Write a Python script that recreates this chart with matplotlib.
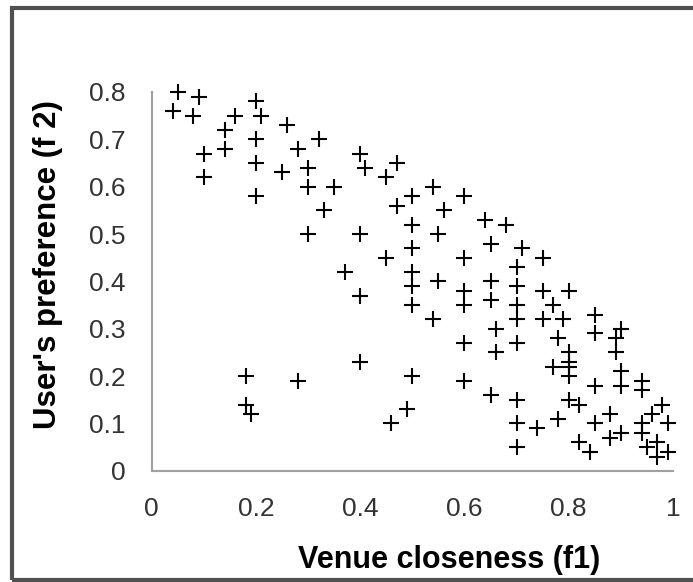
import matplotlib
matplotlib.use('Agg')
import matplotlib.pyplot as plt
from matplotlib.patches import Rectangle

# Venue closeness (f1) and user's preference (f2).
f1 = [0.05, 0.09, 0.04, 0.08, 0.20, 0.16, 0.21, 0.26, 0.14, 0.20,
      0.32, 0.28, 0.10, 0.14, 0.20, 0.25, 0.30, 0.30, 0.35, 0.10,
      0.20, 0.33, 0.30, 0.40, 0.41, 0.47, 0.45, 0.54, 0.50, 0.60,
      0.47, 0.56, 0.50, 0.64, 0.68, 0.40, 0.55, 0.65, 0.71, 0.50,
      0.45, 0.60, 0.70, 0.37, 0.50, 0.50, 0.55, 0.60, 0.65, 0.70,
      0.40, 0.50, 0.60, 0.65, 0.70, 0.54, 0.70, 0.66, 0.60, 0.70,
      0.66, 0.40, 0.50, 0.60, 0.65, 0.70, 0.49, 0.46, 0.70, 0.70,
      0.18, 0.28, 0.18, 0.19, 0.75, 0.75, 0.80, 0.77, 0.75, 0.79,
      0.85, 0.90, 0.85, 0.89, 0.78, 0.89, 0.80, 0.80, 0.77, 0.80,
      0.80, 0.85, 0.90, 0.90, 0.94, 0.94, 0.80, 0.82, 0.98, 0.96,
      0.88, 0.74, 0.78, 0.85, 0.94, 0.99, 0.90, 0.88, 0.94, 0.82,
      0.84, 0.95, 0.97, 0.97, 0.99]
f2 = [0.80, 0.79, 0.76, 0.75, 0.78, 0.75, 0.75, 0.73, 0.72, 0.70,
      0.70, 0.68, 0.67, 0.68, 0.65, 0.63, 0.64, 0.60, 0.60, 0.62,
      0.58, 0.55, 0.50, 0.67, 0.64, 0.65, 0.62, 0.60, 0.58, 0.58,
      0.56, 0.55, 0.52, 0.53, 0.52, 0.50, 0.50, 0.48, 0.47, 0.47,
      0.45, 0.45, 0.43, 0.42, 0.42, 0.39, 0.40, 0.38, 0.40, 0.39,
      0.37, 0.35, 0.35, 0.36, 0.35, 0.32, 0.32, 0.30, 0.27, 0.27,
      0.25, 0.23, 0.20, 0.19, 0.16, 0.15, 0.13, 0.10, 0.10, 0.05,
      0.20, 0.19, 0.14, 0.12, 0.45, 0.38, 0.38, 0.35, 0.32, 0.32,
      0.33, 0.30, 0.29, 0.28, 0.28, 0.25, 0.25, 0.23, 0.22, 0.22,
      0.20, 0.18, 0.21, 0.18, 0.19, 0.17, 0.15, 0.14, 0.14, 0.12,
      0.12, 0.09, 0.11, 0.10, 0.10, 0.10, 0.08, 0.07, 0.08, 0.06,
      0.04, 0.05, 0.06, 0.03, 0.04]

x_ticks = [0, 0.2, 0.4, 0.6, 0.8, 1]
x_labels = ['0', '0.2', '0.4', '0.6', '0.8', '1']
y_ticks = [0, 0.1, 0.2, 0.3, 0.4, 0.5, 0.6, 0.7, 0.8]
y_labels = ['0', '0.1', '0.2', '0.3', '0.4', '0.5', '0.6', '0.7', '0.8']

plt.rcParams['font.family'] = ['Liberation Sans', 'DejaVu Sans']

fig = plt.figure(figsize=(6.93, 5.82), dpi=100)
ax = fig.add_axes([0.219, 0.191, 0.752, 0.651])

ax.plot(f1, f2, linestyle='none', marker='+', color='black',
        markersize=12, markeredgewidth=1.5, clip_on=False)

ax.set_xlim(0, 1)
ax.set_ylim(0, 0.8)
ax.set_xticks(x_ticks)
ax.set_xticklabels(x_labels)
ax.set_yticks(y_ticks)
ax.set_yticklabels(y_labels)
ax.tick_params(length=0, labelsize=19, labelcolor='#333333')
ax.tick_params(axis='x', pad=19)
ax.tick_params(axis='y', pad=19)

for side in ['top', 'right']:
    ax.spines[side].set_visible(False)
for side in ['left', 'bottom']:
    ax.spines[side].set_color('#a0a0a0')
    ax.spines[side].set_linewidth(1.5)

ax.set_xlabel('Venue closeness (f1)', fontsize=22, fontweight='bold')
ax.xaxis.set_label_coords(0.57, -0.195)
ax.set_ylabel("User's preference (f 2)", fontsize=22.5, fontweight='bold')
ax.yaxis.set_label_coords(-0.17, 0.544)

# Outer frame round the chart.
fig.patches.append(Rectangle((0.017, 0.004), 1.2, 0.982, transform=fig.transFigure,
                             fill=False, edgecolor='#505050', linewidth=3))

fig.savefig('out.png', dpi=100)
